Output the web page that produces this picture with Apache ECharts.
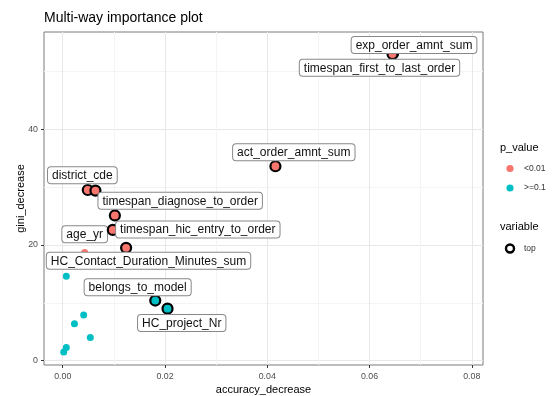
<!DOCTYPE html>
<html>
<head>
<meta charset="utf-8">
<script src="https://cdn.jsdelivr.net/npm/echarts@6/dist/echarts.min.js"></script>
<style>html,body{margin:0;padding:0;background:#fff}#c{width:560px;height:396px}</style>
</head>
<body>
<div id="c"></div>
<script>
// ---- data ----
var names = ["exp_order_amnt_sum","timespan_first_to_last_order","act_order_amnt_sum","district_cde","",
  "timespan_diagnose_to_order","timespan_hic_entry_to_order","HC_Contact_Duration_Minutes_sum","age_yr",
  "belongs_to_model","HC_project_Nr","","","","","",""];
var accuracyDecrease = [0.0646,0.0645,0.0416,0.0049,0.0064,0.0102,0.0098,0.0124,0.0043,0.0181,0.0205,
  0.0007,0.0041,0.0023,0.0054,0.0007,0.0002];
var giniDecrease = [53.1,53.0,33.6,29.5,29.4,25.1,22.6,19.5,18.7,10.4,9.0,
  14.6,7.9,6.4,4.0,2.3,1.5];
var pValue = ["<0.01","<0.01","<0.01","<0.01","<0.01","<0.01","<0.01","<0.01","<0.01",">=0.1",">=0.1",
  ">=0.1",">=0.1",">=0.1",">=0.1",">=0.1",">=0.1"];
var isTop = [1,1,1,1,1,1,1,1,0,1,1,0,0,0,0,0,0];
var xTicks = [0,0.02,0.04,0.06,0.08];
var xMinor = [0.01,0.03,0.05,0.07];
var yTicks = [0,20,40];
var yMinor = [10,30,50];
// label placement (repel layout, pixels relative to point)
var labelOffsets = [[22,-7.5],[-12,14.7],[19.4,-13],[-4.4,-13.7],null,[66.3,-13.7],[86,0.6],[23.4,14],[1,-17.3],[-16.6,-12.4],[15.2,15.3]];

var colors = {"<0.01":"#F8766D", ">=0.1":"#00BFC4"};
var FONT = "Liberation Sans, Arial, sans-serif";

function buildData(top) {
  var out = [];
  for (var i = 0; i < names.length; i++) {
    if (isTop[i] !== top) continue;
    var item = {name: names[i], value: [accuracyDecrease[i], giniDecrease[i]],
      itemStyle: {color: colors[pValue[i]], opacity: 1}};
    item.label = {show: !!(names[i] && labelOffsets[i])};
    out.push(item);
  }
  return out;
}
var seriesIdx = [[], []];
for (var i = 0; i < names.length; i++) seriesIdx[isTop[i]].push(i);

function layoutFor(s) {
  return function (params) {
    var i = seriesIdx[s][params.dataIndex];
    var off = labelOffsets[i] || [0, 0];
    var r = params.labelRect;
    var cx = params.rect.x + params.rect.width / 2, cy = params.rect.y + params.rect.height / 2;
    return {x: cx + off[0] - r.width / 2, y: cy + off[1] - r.height / 2, align: 'left', verticalAlign: 'top', hideOverlap: false};
  };
}

var labelStyle = {
  show: true, position: 'inside', formatter: '{b}', color: '#111', fontFamily: FONT, fontSize: 12,
  backgroundColor: '#fff', borderColor: '#888', borderWidth: 1, borderRadius: 3,
  padding: [2, 4, 1, 4], lineHeight: 13
};

var xMin = -0.00366, xMax = 0.0822, yMin = -0.74, yMax = 56.8;

var chart = echarts.init(document.getElementById('c'), null, {renderer: 'canvas'});
chart.setOption({
  animation: false,
  title: {text: 'Multi-way importance plot', left: 44, top: 11, padding: 0,
    textStyle: {fontFamily: FONT, fontSize: 14, fontWeight: 'normal', color: '#000'}},
  grid: {left: 44, top: 32, right: 77, bottom: 31, outerBoundsMode: 'none', containLabel: false,
    show: true, borderColor: '#7a7a7a', borderWidth: 1, backgroundColor: '#fff'},
  xAxis: [{
    type: 'value', min: xMin, max: xMax, name: 'accuracy_decrease', nameLocation: 'middle', nameGap: 19,
    nameMoveOverlap: false,
    nameTextStyle: {fontFamily: FONT, fontSize: 11, color: '#000'},
    axisLine: {show: false, onZero: false},
    axisTick: {show: true, length: 3, lineStyle: {color: '#333'}, customValues: xTicks},
    axisLabel: {customValues: xTicks, fontFamily: FONT, fontSize: 8.8, color: '#4d4d4d', margin: 7,
      formatter: function (v) { return v.toFixed(2); }},
    splitLine: {show: true, lineStyle: {color: '#e8e8e8', width: 1}}
  }, {
    type: 'value', min: xMin, max: xMax, position: 'bottom',
    axisLine: {show: false, onZero: false}, axisTick: {show: false, customValues: xMinor}, axisLabel: {show: false, customValues: xMinor},
    splitLine: {show: true, lineStyle: {color: '#f4f4f4', width: 1}}
  }],
  yAxis: [{
    type: 'value', min: yMin, max: yMax, name: 'gini_decrease', nameLocation: 'middle', nameGap: 18,
    nameMoveOverlap: false,
    nameTextStyle: {fontFamily: FONT, fontSize: 11, color: '#000'},
    axisLine: {show: false, onZero: false},
    axisTick: {show: true, length: 3, lineStyle: {color: '#333'}, customValues: yTicks},
    axisLabel: {customValues: yTicks, fontFamily: FONT, fontSize: 8.8, color: '#4d4d4d', margin: 6},
    splitLine: {show: true, lineStyle: {color: '#e8e8e8', width: 1}}
  }, {
    type: 'value', min: yMin, max: yMax, position: 'left',
    axisLine: {show: false, onZero: false}, axisTick: {show: false, customValues: yMinor}, axisLabel: {show: false, customValues: yMinor},
    splitLine: {show: true, lineStyle: {color: '#f4f4f4', width: 1}}
  }],
  series: [{
    type: 'scatter', name: 'other', symbol: 'circle', symbolSize: 7, z: 3,
    data: buildData(0), label: labelStyle, labelLayout: layoutFor(0)
  }, {
    type: 'scatter', name: 'top', symbol: 'circle', symbolSize: 10, z: 4,
    itemStyle: {borderColor: '#000', borderWidth: 2.2, opacity: 1},
    data: buildData(1), label: labelStyle, labelLayout: layoutFor(1)
  }],
  graphic: [
    {type: 'text', left: 500, top: 142, style: {text: 'p_value', font: '11px ' + FONT, fill: '#000'}},
    {type: 'circle', shape: {cx: 510, cy: 168.5, r: 3.6}, style: {fill: colors["<0.01"]}},
    {type: 'text', left: 524, top: 164, style: {text: '<0.01', font: '8.5px ' + FONT, fill: '#333'}},
    {type: 'circle', shape: {cx: 510, cy: 188, r: 3.6}, style: {fill: colors[">=0.1"]}},
    {type: 'text', left: 524, top: 183.5, style: {text: '>=0.1', font: '8.5px ' + FONT, fill: '#333'}},
    {type: 'text', left: 500, top: 221, style: {text: 'variable', font: '11px ' + FONT, fill: '#000'}},
    {type: 'circle', shape: {cx: 510, cy: 248.5, r: 4}, style: {fill: '#fff', stroke: '#000', lineWidth: 2.4}},
    {type: 'text', left: 524, top: 244, style: {text: 'top', font: '8.5px ' + FONT, fill: '#333'}}
  ]
});
</script>
</body>
</html>
